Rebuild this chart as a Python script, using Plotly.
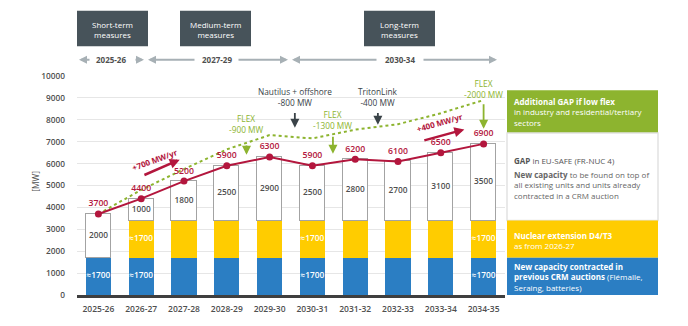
import plotly.graph_objects as go

# ---- data -------------------------------------------------------------
periods = ["2025-26", "2026-27", "2027-28", "2028-29", "2029-30",
           "2030-31", "2031-32", "2032-33", "2033-34", "2034-35"]
crm_contracted = [1700, 1700, 1700, 1700, 1700, 1700, 1700, 1700, 1700, 1700]
nuclear_ext = [0, 1700, 1700, 1700, 1700, 1700, 1700, 1700, 1700, 1700]
gap = [2000, 1000, 1800, 2500, 2900, 2500, 2800, 2700, 3100, 3500]
total_need = [3700, 4400, 5200, 5900, 6300, 5900, 6200, 6100, 6500, 6900]
need_low_flex = [3700, 4800, 5750, 6650, 7300, 7150, 7550, 7800, 8300, 8900]
crm_labels = ["≈1700", "≈1700", "", "", "", "≈1700", "", "", "", "≈1700"]
nuc_labels = ["", "≈1700", "", "", "", "≈1700", "", "", "", "≈1700"]

# ---- styling ------------------------------------------------------------
FONT = "Open Sans"
BLUE, YELLOW, GREEN, RED = "#2b7ec3", "#ffcc00", "#8db42f", "#b3163d"
SLATE, GREYTXT, ARROWGREY = "#47535a", "#4f4f4f", "#a7b0b5"

W, H = 688, 326
ML, MR, MT, MB = 77, 183, 76, 22
PW, PH = W - ML - MR, H - MT - MB


def fx(p):
    """pixel x -> paper x"""
    return (p - ML) / PW


def fy(p):
    """pixel y -> paper y"""
    return (H - MB - p) / PH


xs = list(range(len(periods)))
BW = 0.585

fig = go.Figure()
fig.add_bar(x=xs, y=crm_contracted, width=BW, marker=dict(color=BLUE, line=dict(width=0)),
            hoverinfo="skip")
fig.add_bar(x=xs, y=nuclear_ext, width=BW, marker=dict(color=YELLOW, line=dict(width=0)),
            hoverinfo="skip")
fig.add_bar(x=xs, y=gap, width=BW,
            marker=dict(color="white", line=dict(color="#a3a3a3", width=1.5)),
            hoverinfo="skip")

# segment labels
crm_mid = [v / 2 for v in crm_contracted]
nuc_mid = [c + n / 2 for c, n in zip(crm_contracted, nuclear_ext)]
gap_mid = [c + n + g / 2 for c, n, g in zip(crm_contracted, nuclear_ext, gap)]
fig.add_scatter(x=xs, y=crm_mid, mode="text", text=crm_labels,
                textfont=dict(family=FONT, size=8.3, color="white", weight=600),
                hoverinfo="skip")
fig.add_scatter(x=xs, y=nuc_mid, mode="text", text=nuc_labels,
                textfont=dict(family=FONT, size=8.3, color="white", weight=600),
                hoverinfo="skip")
fig.add_scatter(x=xs, y=gap_mid, mode="text", text=[str(g) for g in gap],
                textfont=dict(family=FONT, size=8.3, color=GREYTXT, weight=600),
                hoverinfo="skip")

# low-flex need (dotted) and total need (red)
fig.add_scatter(x=xs, y=need_low_flex, mode="lines",
                line=dict(color=GREEN, width=2, dash="dot"), hoverinfo="skip")
fig.add_scatter(x=xs, y=total_need, mode="lines+markers+text",
                text=[str(v) for v in total_need], textposition="top center",
                textfont=dict(family=FONT, size=8.7, color=RED, weight=600),
                line=dict(color=RED, width=2), marker=dict(color=RED, size=7),
                cliponaxis=False, hoverinfo="skip")

shapes = []
annotations = []


def note(text, x, y, size=8.3, color=GREYTXT, xref="x", yref="y", **kw):
    d = dict(text=text, x=x, y=y, xref=xref, yref=yref, showarrow=False,
             xanchor="center", yanchor="middle",
             font=dict(family=FONT, size=size, color=color))
    d.update(kw)
    annotations.append(d)


def arrow(x0, y0, x1, y1, color, width=2, size=1.0, head=2):
    annotations.append(dict(text="", x=x1, y=y1, ax=x0, ay=y0, xref="x", yref="y",
                            axref="x", ayref="y", showarrow=True, arrowhead=head,
                            arrowsize=size, arrowwidth=width, arrowcolor=color,
                            standoff=0, startstandoff=0))


# growth arrows
note("<b>+700 MW/yr</b>", 1.32, 6180, size=8, color=RED, textangle=-20)
arrow(1.04, 5450, 1.90, 6180, RED, width=2.5, size=0.8)
note("<b>+400 MW/yr</b>", 7.97, 7860, size=8, color=RED, textangle=-16)
arrow(7.58, 7040, 8.55, 7560, RED, width=2.5, size=0.8)

# flexibility / interconnector notes
note("FLEX<br>-900 MW", 3.46, 7790, size=8.3, color=GREEN)
arrow(3.46, 6900, 3.46, 6400, GREEN, width=1.8, size=1.0)
note("FLEX<br>-1300 MW", 5.48, 7990, size=8.3, color=GREEN)
arrow(5.48, 7290, 5.48, 6450, GREEN, width=1.8, size=1.0)
note("FLEX<br>-2000 MW", 9.0, 9390, size=8.3, color=GREEN)
arrow(9.0, 8780, 9.0, 7590, GREEN, width=1.8, size=1.0)
note("Nautilus + offshore<br>-800 MW", 4.59, 9020, size=8.3, color="#3a4348")
arrow(4.59, 8380, 4.59, 7640, "#3a4348", width=1.8, size=1.0)
note("TritonLink<br>-400 MW", 6.53, 9020, size=8.3, color="#3a4348")
arrow(6.53, 8380, 6.53, 7770, "#3a4348", width=1.8, size=1.0)

# axis title
note("[MW]", fx(36), fy(186), size=8.3, color=GREYTXT, xref="paper", yref="paper",
     textangle=-90)

# ---- header: measure horizons -----------------------------------------
for label, x0, x1 in [("Short-term<br>measures", 77, 148),
                      ("Medium-term<br>measures", 180, 251),
                      ("Long-term<br>measures", 364, 435)]:
    shapes.append(dict(type="rect", xref="paper", yref="paper",
                       x0=fx(x0), x1=fx(x1), y0=fy(45), y1=fy(8),
                       fillcolor=SLATE, line=dict(width=0), layer="below"))
    note(label, fx((x0 + x1) / 2), fy(28), size=8, color="white",
         xref="paper", yref="paper")

ROW = 59
for head, tail in [(79, 91), (144, 134), (148, 196), (288, 237), (292, 378), (497, 422)]:
    annotations.append(dict(text="", x=fx(head), y=fy(ROW), xref="paper", yref="paper",
                            ax=tail - head, ay=0, showarrow=True, arrowhead=2,
                            arrowsize=0.8, arrowwidth=2, arrowcolor=ARROWGREY,
                            standoff=0, startstandoff=0))
for label, xc in [("2025-26", 111), ("2027-29", 217), ("2030-34", 400)]:
    note("<b>" + label + "</b>", fx(xc), fy(ROW), size=8, color=GREYTXT,
         xref="paper", yref="paper")

# ---- right-hand key boxes ---------------------------------------------
KX0, KX1 = fx(507), fx(658)
boxes = [(7400, 9350, GREEN, None), (3400, 7400, "white", "#e2e2e2"),
         (1700, 3400, YELLOW, None), (0, 1700, BLUE, None)]
for y0, y1, fill, edge in boxes:
    shapes.append(dict(type="rect", xref="paper", yref="paper", x0=KX0, x1=KX1,
                       y0=y0 / 10000, y1=y1 / 10000, fillcolor=fill, layer="below",
                       line=dict(color=edge or fill, width=1.5 if edge else 0)))

TX = fx(512)
note("<b>Additional GAP if low flex</b><br>in industry and residential/tertiary<br>sectors",
     TX, fy(113.3), size=8, color="white", xref="paper", yref="paper",
     xanchor="left", align="left")
note("<b>GAP</b> in EU-SAFE (FR-NUC 4)", TX, fy(164.3), size=8, color="#555555",
     xref="paper", yref="paper", xanchor="left", align="left")
note("<b>New capacity</b> to be found on top of<br>all existing units and units already"
     "<br>contracted in a CRM auction",
     TX, fy(189.5), size=8, color="#666666", xref="paper", yref="paper",
     xanchor="left", align="left")
note("<b>Nuclear extension D4/T3</b><br>as from 2026-27", TX, fy(247), size=8,
     color="white", xref="paper", yref="paper", xanchor="left", align="left")
note("<b>New capacity contracted in<br>previous CRM auctions</b> (Flémalle,"
     "<br>Seraing, batteries)", TX, fy(285), size=8, color="white",
     xref="paper", yref="paper", xanchor="left", align="left")

fig.update_layout(
    width=W, height=H, margin=dict(l=ML, r=MR, t=MT, b=MB, pad=0),
    barmode="stack", bargap=0, showlegend=False,
    paper_bgcolor="white", plot_bgcolor="white",
    font=dict(family=FONT, size=8.3, color=GREYTXT),
    shapes=shapes, annotations=annotations,
    xaxis=dict(range=[-0.5, 9.5], tickvals=xs, ticktext=periods, showgrid=False,
               zeroline=False, showline=True, linecolor="#3f3f3f", linewidth=2.5,
               ticks="", ticklabelstandoff=4,
               tickfont=dict(family=FONT, size=8.5, color=GREYTXT, weight=600)),
    yaxis=dict(range=[0, 10000], dtick=1000, tickformat="d", showgrid=True,
               gridcolor="#e6e6e6", gridwidth=1.4, zeroline=False, showline=False,
               ticks="", ticklabelstandoff=11,
               tickfont=dict(family=FONT, size=8.3, color=GREYTXT, weight=600)),
)

fig.write_html("out.html")
